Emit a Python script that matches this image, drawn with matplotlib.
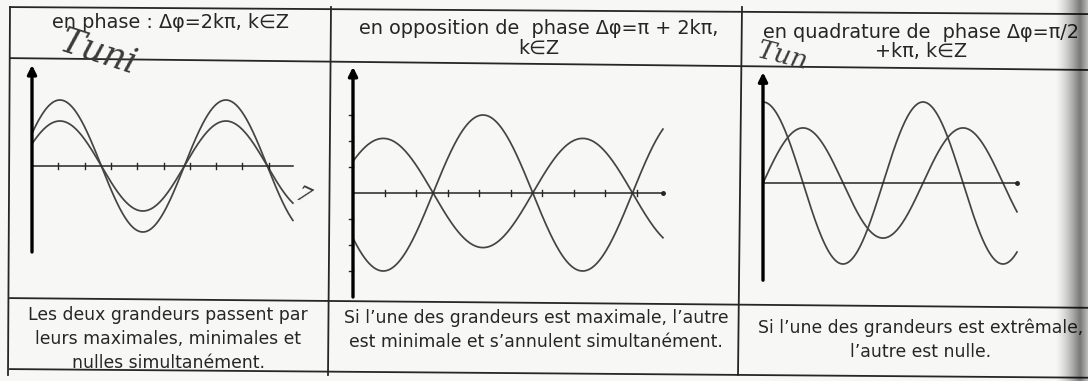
import numpy as np
import matplotlib

matplotlib.use("Agg")
import matplotlib.pyplot as plt  # noqa: E402

W, H = 1088, 381
INK = "#262626"
CURVE = "#444444"

HEADERS = [
    "en phase : Δφ=2kπ, k∈Z",
    "en opposition de  phase Δφ=π + 2kπ,\nk∈Z",
    "en quadrature de  phase Δφ=π/2\n+kπ, k∈Z",
]
BODIES = [
    "Les deux grandeurs passent par\nleurs maximales, minimales et\nnulles simultanément.",
    "Si l’une des grandeurs est maximale, l’autre\nest minimale et s’annulent simultanément.",
    "Si l’une des grandeurs est extrêmale,\nl’autre est nulle.",
]

# panel 1: in phase (x in tick units, y in tenths of the drawing)
P1_AMPS = [6.6, 4.5]
P1_PEAK = 1.06
P1_PERIOD = 6.31
P1_XMAX = 9.92
P1_TICKS = [1, 2, 3, 4, 5, 6, 7, 8, 9]

# panel 2: phase opposition
P2_AMPS = [2.1, -3.0]
P2_PEAK = 0.96
P2_PERIOD = 6.33
P2_XMAX = 9.84
P2_XTICKS = [1, 2, 3, 4, 5, 6, 7, 8, 9]
P2_YTICKS = [-3, -2, -1, 1, 2, 3]

# panel 3: quadrature
P3_AMPS = [3.0, 2.04]
P3_PEAKS = [0.0, 1.0]
P3_PERIOD = 4.0
P3_XMAX = 6.35

fig = plt.figure(figsize=(W / 100, H / 100), dpi=100, facecolor="#f7f7f6")
plt.rcParams["font.family"] = ["DejaVu Sans"]

# ── table frame, in pixel coordinates (the scan is slightly tilted) ──
tab = fig.add_axes([0, 0, 1, 1])
tab.set_xlim(0, W)
tab.set_ylim(H, 0)
tab.axis("off")
tab.patch.set_alpha(0)


def hline(y0, slope):
    xs = np.array([10, W])
    tab.plot(xs, y0 + slope * xs, color=INK, lw=1.3)


hline(7, 0.0065)
hline(58, 0.011)
hline(298, 0.009)
hline(369, 0.008)
for x_top, x_bot in [(10, 8), (331, 328), (742, 738)]:
    tab.plot([x_top, x_bot], [7, 375], color=INK, lw=1.3)

head = dict(color=INK, fontsize=13.9, ha="center", va="center", linespacing=1.05)
body = dict(color=INK, fontsize=12.4, ha="center", va="center")
tab.text(170, 23, HEADERS[0], **head)
tab.text(539, 38, HEADERS[1], **head)
tab.text(921, 42, HEADERS[2], **head)
tab.text(168, 339, BODIES[0], linespacing=1.4, **body)
tab.text(536, 330, BODIES[1], linespacing=1.45, **body)
tab.text(921, 340, BODIES[2], linespacing=1.45, **body)

# pencil scribbles on the scan
pencil = dict(color="#3a3a3a", fontstyle="italic", family="DejaVu Serif")
tab.text(98, 52, "Tuni", fontsize=25, rotation=-18, ha="center", va="center", **pencil)
tab.text(783, 56, "Tun", fontsize=19, rotation=-14, ha="center", va="center", **pencil)
tab.text(302, 197, "7", fontsize=16, rotation=-25, ha="center", va="center", **pencil)


def panel(ox, oy, ux, uy):
    ax = fig.add_axes([0, 0, 1, 1])
    ax.set_xlim(-ox / ux, (W - ox) / ux)
    ax.set_ylim(-(H - oy) / uy, oy / uy)
    ax.axis("off")
    ax.patch.set_alpha(0)
    return ax


def y_arrow(ax, bottom, top):
    ax.annotate("", xy=(0, top), xytext=(0, bottom),
                arrowprops=dict(arrowstyle="-|>", lw=2.4, color="black",
                                mutation_scale=13, shrinkA=0, shrinkB=0))


def x_axis(ax, xmax, ticks, tick_h):
    ax.plot([0, xmax], [0, 0], color=INK, lw=1.1)
    for t in ticks:
        ax.plot([t, t], [-tick_h, tick_h], color=INK, lw=1.0)


# panel 1
ax1 = panel(32, 166, 26.3, 10)
x = np.linspace(0, P1_XMAX, 400)
for a in P1_AMPS:
    ax1.plot(x, a * np.cos(2 * np.pi * (x - P1_PEAK) / P1_PERIOD), color=CURVE, lw=1.25)
x_axis(ax1, P1_XMAX, P1_TICKS, 0.3)
y_arrow(ax1, -8.6, 10.1)

# panel 2
ax2 = panel(353, 193, 31.5, 26)
x = np.linspace(0, P2_XMAX, 400)
for a in P2_AMPS:
    ax2.plot(x, a * np.cos(2 * np.pi * (x - P2_PEAK) / P2_PERIOD), color=CURVE, lw=1.25)
x_axis(ax2, P2_XMAX, P2_XTICKS, 0.12)
ax2.plot([P2_XMAX], [0], "o", color=INK, ms=2.5)
for t in P2_YTICKS:
    ax2.plot([-0.14, 0], [t, t], color=INK, lw=1.0)
y_arrow(ax2, -4.0, 4.85)

# panel 3
ax3 = panel(763, 183, 40, 27)
x = np.linspace(0, P3_XMAX, 400)
for a, pk in zip(P3_AMPS, P3_PEAKS):
    ax3.plot(x, a * np.cos(2 * np.pi * (x - pk) / P3_PERIOD), color=CURVE, lw=1.25)
x_axis(ax3, P3_XMAX, [], 0)
ax3.plot([P3_XMAX], [0], "o", color=INK, ms=2.5)
y_arrow(ax3, -3.6, 4.1)

# page-edge shadow of the scan on the right (black with a rising alpha)
alpha = np.concatenate([np.linspace(0, 0.5, 26) ** 1.5 / 0.5 ** 0.5, np.linspace(0.5, 0.25, 8)])
shade = np.zeros((2, alpha.size, 4))
shade[..., 3] = alpha
tab.imshow(shade, extent=(W - 34, W, H, 0), aspect="auto", zorder=5,
           interpolation="bilinear")
tab.set_xlim(0, W)
tab.set_ylim(H, 0)

fig.savefig("out.png", dpi=100, facecolor=fig.get_facecolor())
